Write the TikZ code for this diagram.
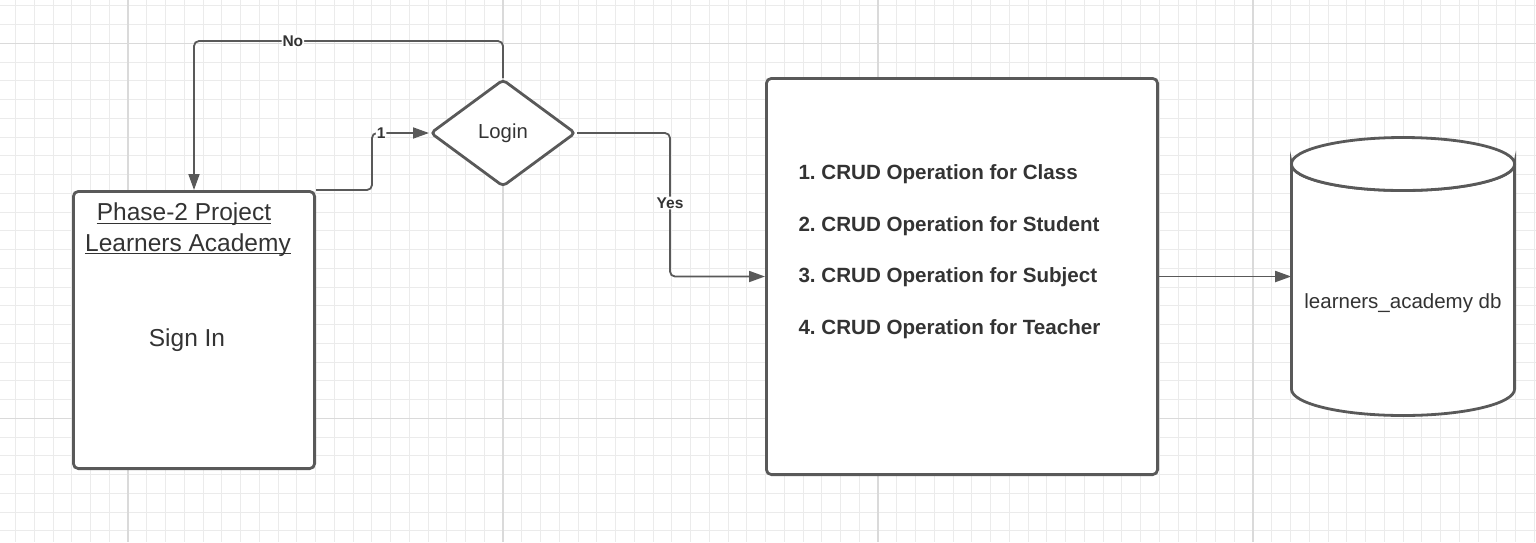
\documentclass[tikz,border=0pt]{standalone}
\usepackage{fontspec}
\setmainfont{Liberation Sans}
\usetikzlibrary{arrows.meta}
\usetikzlibrary{shapes.geometric}

\definecolor{linegray}{HTML}{595959}
\definecolor{textgray}{HTML}{333333}
\definecolor{gridminor}{HTML}{EBEBEB}
\definecolor{gridmajor}{HTML}{DADADA}

\begin{document}
\begin{tikzpicture}[x=1pt, y=-1pt,
  box/.style={draw=linegray, line width=2.8pt, fill=white, rounded corners=5pt},
  conn/.style={draw=linegray, line width=1.8pt, rounded corners=5pt, -{Triangle[length=16pt,width=11pt]}},
  lbl/.style={fill=white, inner sep=1pt, text=textgray, font=\fontsize{15.5}{18}\selectfont\bfseries},
  txt/.style={inner sep=0pt, text=textgray, anchor=base},
  item/.style={inner sep=0pt, text=textgray, anchor=base west, font=\fontsize{20.6}{24}\selectfont\bfseries}]

\useasboundingbox (0,0) rectangle (1536,542);
\fill[white] (0,0) rectangle (1536,542);

% grid
\foreach \i in {0,...,81} \draw[gridminor, line width=1pt] (15.5+18.75*\i,0) -- (15.5+18.75*\i,542);
\foreach \j in {0,...,28} \draw[gridminor, line width=1pt] (0,5.8+18.75*\j) -- (1536,5.8+18.75*\j);
\foreach \i in {128,503,878,1253} \draw[gridmajor, line width=1.6pt] (\i,0) -- (\i,542);
\foreach \j in {43.3,418.3} \draw[gridmajor, line width=1.6pt] (0,\j) -- (1536,\j);

\node[box, minimum width=241.2pt, minimum height=277.2pt] (signin) at (194,330) {};
\node[txt, font=\fontsize{24.5}{29}\selectfont] (title) at (184,220.7) {Phase-2 Project};
\node[txt, font=\fontsize{24.5}{29}\selectfont] (subtitle) at (188,251) {Learners Academy};
\draw[textgray, line width=1.4pt] ([yshift=-2.6pt]title.base west) -- ([yshift=-2.6pt]title.base east);
\draw[textgray, line width=1.4pt] ([yshift=-2.6pt]subtitle.base west) -- ([yshift=-2.6pt]subtitle.base east);
\node[txt, font=\fontsize{24.5}{29}\selectfont] (signtext) at (187,346) {Sign In};

\node[box, diamond, rounded corners=4pt, inner sep=0pt, minimum width=145.2pt, minimum height=107.2pt,
  text=textgray, font=\fontsize{20.3}{24}\selectfont] (login) at (503,133) {Login};

\node[box, minimum width=391.2pt, minimum height=396.2pt] (crud) at (962,276.5) {};
\foreach \n/\what/\y in {1/Class/179.3, 2/Student/231, 3/Subject/282.7, 4/Teacher/334}
  \node[item] (item\n) at (798.3,\y) {\n.\ CRUD Operation for \what};

% database
\node[minimum width=223.2pt, minimum height=278.4pt, inner sep=0pt] (db) at (1403,276.5) {};
\filldraw[box, sharp corners] (1291.4,164) -- (1291.4,389) arc[start angle=180, end angle=0, x radius=111.6, y radius=26.5]
  -- (1514.6,164) arc[start angle=0, end angle=180, x radius=111.6, y radius=26.5] -- cycle;
\draw[box, sharp corners] (1403,164) ellipse[x radius=111.6, y radius=26.5];
\node[txt, font=\fontsize{20.5}{24}\selectfont] (dblabel) at (1403,308) {learners\_academy db};

\draw[conn] (signin.north east) -- ++(56,0) |- node[lbl, pos=0.58] (one) {1} (login.west);
\draw[conn] (login.north) -- ++(0,-37) -| node[lbl, pos=0.34] (no) {No} (signin.north);
\draw[conn] (login.east) -- ++(93,0) |- node[lbl, pos=0.244] (yes) {Yes} (crud.west);
\draw[conn] (crud.east) -- (db.west);

\end{tikzpicture}
\end{document}
